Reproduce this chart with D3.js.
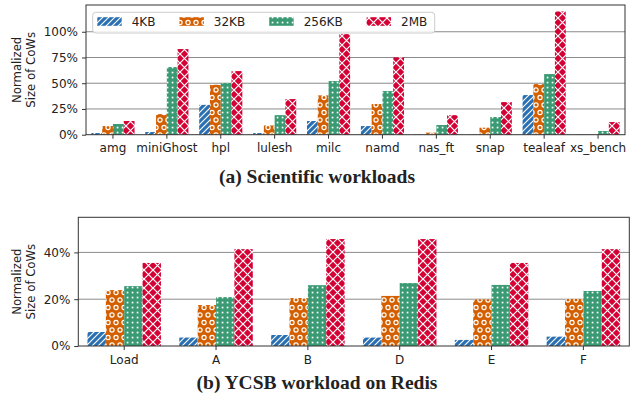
<!DOCTYPE html>
<html>
<head>
<meta charset="utf-8">
<script src="https://cdn.jsdelivr.net/npm/d3@7"></script>
<style>
  body { margin: 0; background: #fff; }
  svg { display: block; }
  text { font-family: "DejaVu Sans", sans-serif; fill: #222; }
</style>
</head>
<body>
<svg id="chart" width="639" height="400"></svg>
<script>
const sizes = ["4KB", "32KB", "256KB", "2MB"];

// (a) scientific workloads, values in %
const sciApps = ["amg", "miniGhost", "hpl", "lulesh", "milc", "namd", "nas_ft", "snap", "tealeaf", "xs_bench"];
const sci4KB   = [1.6, 2.6, 29.0, 1.6, 13.3, 8.4, 0.3, 0.3, 38.5, 0.3];
const sci32KB  = [8.4, 20.0, 48.5, 9.0, 38.2, 29.8, 2.0, 6.8, 49.2, 0.3];
const sci256KB = [10.4, 65.7, 50.2, 19.0, 52.1, 42.4, 9.4, 17.2, 58.9, 3.6];
const sci2MB   = [13.3, 83.2, 61.8, 34.6, 97.7, 75.1, 19.0, 31.7, 119.7, 12.3];
const sciTicks = [0, 25, 50, 75, 100];

// (b) YCSB on Redis, values in %
const ycsbWorkloads = ["Load", "A", "B", "D", "E", "F"];
const ycsb4KB   = [6.0, 3.6, 4.7, 3.6, 2.6, 4.0];
const ycsb32KB  = [23.9, 17.5, 20.5, 21.4, 19.9, 20.1];
const ycsb256KB = [25.6, 20.9, 26.0, 26.9, 26.1, 23.5];
const ycsb2MB   = [35.5, 41.4, 45.7, 45.7, 35.5, 41.4];
const ycsbTicks = [0, 20, 40];

const colors = ["#2a6fb2", "#d45f00", "#3a9a73", "#d40034"];
const patternIds = ["hatch-slash", "hatch-ring", "hatch-dot", "hatch-cross"];
const fontSize = "12px";

const svg = d3.select("#chart");
const defs = svg.append("defs");

// "/" lines on blue
const p0 = defs.append("pattern").attr("id", patternIds[0])
    .attr("patternUnits", "userSpaceOnUse").attr("width", 6).attr("height", 6);
p0.append("rect").attr("width", 6).attr("height", 6).attr("fill", colors[0]);
p0.append("path").attr("d", "M-1,7 L7,-1 M-2,2 L2,-2 M4,8 L8,4")
    .attr("stroke", "#fff").attr("stroke-width", 1.1);

// "o" rings on orange (staggered rows)
const p1 = defs.append("pattern").attr("id", patternIds[1])
    .attr("patternUnits", "userSpaceOnUse").attr("width", 8).attr("height", 15);
p1.append("rect").attr("width", 8).attr("height", 15).attr("fill", colors[1]);
[[0, 0], [8, 0], [0, 15], [8, 15], [4, 7.5]].forEach(([cx, cy]) => {
    p1.append("circle").attr("cx", cx).attr("cy", cy).attr("r", 2.1)
        .attr("fill", "none").attr("stroke", "#fff").attr("stroke-width", 1.2);
});

// small dots on green
const p2 = defs.append("pattern").attr("id", patternIds[2])
    .attr("patternUnits", "userSpaceOnUse").attr("width", 5).attr("height", 5);
p2.append("rect").attr("width", 5).attr("height", 5).attr("fill", colors[2]);
p2.append("rect").attr("x", 1.7).attr("y", 1.7).attr("width", 1.7).attr("height", 1.7).attr("fill", "#fff");

// "x" cross hatch on red
const p3 = defs.append("pattern").attr("id", patternIds[3])
    .attr("patternUnits", "userSpaceOnUse").attr("width", 9).attr("height", 9);
p3.append("rect").attr("width", 9).attr("height", 9).attr("fill", colors[3]);
p3.append("path").attr("d", "M-1,-1 L10,10 M10,-1 L-1,10")
    .attr("stroke", "#fff").attr("stroke-width", 1.2);

function drawPanel(cfg) {
    const { cats, series, yMax, ticks, left, right, top, bottom, title, titleY } = cfg;
    const g = svg.append("g");

    const x = d3.scaleBand().domain(cats).range([left, right]).padding(0);
    const y = d3.scaleLinear().domain([0, yMax]).range([bottom, top]);
    const barW = x.bandwidth() * 0.8 / series.length;

    // grid
    g.selectAll(".grid").data(ticks.filter(t => t > 0)).join("line")
        .attr("x1", left).attr("x2", right)
        .attr("y1", d => y(d)).attr("y2", d => y(d))
        .attr("stroke", "#8a8a8a").attr("stroke-width", 1);

    // bars
    series.forEach((vals, si) => {
        g.selectAll(null).data(cats).join("rect")
            .attr("x", (c) => x(c) + x.bandwidth() * 0.1 + si * barW)
            .attr("y", (c, i) => y(vals[i]))
            .attr("width", barW)
            .attr("height", (c, i) => bottom - y(vals[i]))
            .attr("fill", `url(#${patternIds[si]})`);
    });

    // frame
    g.append("rect").attr("x", left).attr("y", top)
        .attr("width", right - left).attr("height", bottom - top)
        .attr("fill", "none").attr("stroke", "#333").attr("stroke-width", 1);

    // y axis
    const yAxis = g.append("g").attr("transform", `translate(${left},0)`)
        .call(d3.axisLeft(y).tickValues(ticks).tickFormat(d => d + "%").tickSize(4).tickPadding(4));
    yAxis.select(".domain").remove();
    yAxis.selectAll("line").attr("stroke", "#333");
    yAxis.selectAll("text").style("font-size", fontSize).attr("fill", "#222");

    // x axis
    const xAxis = g.append("g").attr("transform", `translate(0,${bottom})`)
        .call(d3.axisBottom(x).tickSize(4).tickPadding(5));
    xAxis.select(".domain").remove();
    xAxis.selectAll("line").attr("stroke", "#333");
    xAxis.selectAll("text").style("font-size", fontSize).attr("fill", "#222");

    // y label
    const mid = (top + bottom) / 2;
    const ylab = g.append("text")
        .attr("transform", `translate(21,${mid}) rotate(-90)`)
        .attr("text-anchor", "middle").style("font-size", "11.7px");
    ylab.append("tspan").attr("x", 0).attr("dy", "0em").text("Normalized");
    ylab.append("tspan").attr("x", 0).attr("dy", "1.2em").text("Size of CoWs");

    // title
    g.append("text").attr("x", 317).attr("y", titleY)
        .attr("text-anchor", "middle")
        .style("font-family", "'Liberation Serif', serif")
        .style("font-weight", "bold").style("font-size", "19.5px")
        .text(title);

    return g;
}

drawPanel({
    cats: sciApps, series: [sci4KB, sci32KB, sci256KB, sci2MB],
    yMax: 126, ticks: sciTicks,
    left: 86, right: 625, top: 5, bottom: 134.7,
    title: "(a) Scientific workloads", titleY: 183
});

drawPanel({
    cats: ycsbWorkloads, series: [ycsb4KB, ycsb32KB, ycsb256KB, ycsb2MB],
    yMax: 55, ticks: ycsbTicks,
    left: 78.3, right: 629.3, top: 217.3, bottom: 346,
    title: "(b) YCSB workload on Redis", titleY: 389
});

// legend
const legend = svg.append("g");
const legBox = legend.append("rect")
    .attr("y", 12.3).attr("height", 20.7).attr("rx", 3)
    .attr("fill", "#fff").attr("fill-opacity", 0.85)
    .attr("stroke", "#ccc").attr("stroke-width", 1);
const colGap = 24;
let lx = 97.3;
sizes.forEach((s, i) => {
    legend.append("rect").attr("x", lx).attr("y", 17.2)
        .attr("width", 24.4).attr("height", 8.6)
        .attr("fill", `url(#${patternIds[i]})`);
    const t = legend.append("text").attr("x", lx + 34.4).attr("y", 26)
        .style("font-size", fontSize).text(s);
    lx = lx + 34.4 + t.node().getComputedTextLength() + colGap;
});
legBox.attr("x", 92.7).attr("width", lx - colGap + 7.4 - 92.7);
</script>
</body>
</html>
